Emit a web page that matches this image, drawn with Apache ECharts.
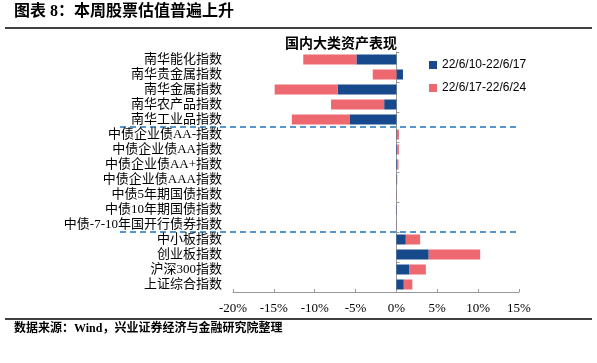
<!DOCTYPE html>
<html><head><meta charset="utf-8">
<script src="https://cdn.jsdelivr.net/npm/echarts@6/dist/echarts.min.js"></script>
<style>html,body{margin:0;padding:0;background:#fff}#c{width:597px;height:363px}</style>
</head><body><div id="c"></div>
<script>
var categories = ['南华能化指数','南华贵金属指数','南华金属指数','南华农产品指数','南华工业品指数',
  '中债企业债AA-指数','中债企业债AA指数','中债企业债AA+指数','中债企业债AAA指数','中债5年期国债指数',
  '中债10年期国债指数','中债-7-10年国开行债券指数','中小板指数','创业板指数','沪深300指数','上证综合指数'];
var seriesNames = ['22/6/10-22/6/17','22/6/17-22/6/24'];
var week1 = [-4.9, 0.8, -7.2, -1.5, -5.75, 0.05, 0.1, 0.1, 0.05, 0.02, -0.04, 0.02, 1.15, 3.95, 1.6, 0.9];
var week2 = [-6.5, -2.9, -7.7, -6.5, -7.05, 0.25, 0.2, 0.15, 0.05, 0.02, -0.02, 0.02, 1.75, 6.3, 2.0, 1.05];
var xTicks = {min: -20, max: 15, interval: 5};
var separatorsAfter = [4, 11];

var serif = '"Liberation Serif","Noto Sans CJK SC",serif';
var chart = echarts.init(document.getElementById('c'));
var gridL = 233, gridR = 78, gridT = 52, gridB = 71;
chart.setOption({
  animation: false,
  title: {text: '国内大类资产表现', left: 336, top: 32, textAlign: 'center',
    textStyle: {fontFamily: serif, fontSize: 14, fontWeight: 'bold', color: '#000'}},
  legend: {orient: 'vertical', left: 424, top: 54, itemGap: 11, itemWidth: 8, itemHeight: 8,
    icon: 'rect', textStyle: {fontFamily: '"Liberation Sans",Arial,sans-serif', fontSize: 12, color: '#000'}},
  grid: {left: gridL, right: gridR, top: gridT, bottom: gridB},
  xAxis: {type: 'value', min: xTicks.min, max: xTicks.max, interval: xTicks.interval,
    axisLine: {show: true, lineStyle: {color: '#999'}},
    axisTick: {show: true, inside: true, length: 3, lineStyle: {color: '#999'}},
    splitLine: {show: false},
    axisLabel: {formatter: '{value}%', fontFamily: serif, fontSize: 13, color: '#000', margin: 10}},
  yAxis: [
    {type: 'category', data: categories, inverse: true,
     axisLine: {onZero: true, lineStyle: {color: '#999'}},
     axisTick: {show: true, inside: true, length: 3, lineStyle: {color: '#999'}},
     axisLabel: {show: false}},
    {type: 'category', data: categories, inverse: true, position: 'left', offset: 0,
     axisLine: {show: false, onZero: false}, axisTick: {show: false},
     axisLabel: {interval: 0, fontFamily: serif, fontSize: 13, color: '#000', margin: 11}}
  ],
  series: [
    {name: seriesNames[0], type: 'bar', stack: 'a', data: week1, barWidth: 10,
     itemStyle: {color: '#164A8C'}},
    {name: seriesNames[1], type: 'bar', stack: 'a', data: week2, barWidth: 10,
     itemStyle: {color: '#EE6870'}}
  ],
  graphic: [
    {type: 'text', left: 14, top: 4, style: {text: '图表 8：本周股票估值普遍上升', fontFamily: serif,
      fontSize: 16, fontWeight: 'bold', fill: '#000'}},
    {type: 'line', shape: {x1: 5, y1: 28, x2: 592, y2: 28}, style: {stroke: '#000', lineWidth: 1.5}},
    {type: 'line', shape: {x1: 5, y1: 319, x2: 592, y2: 319}, style: {stroke: '#000', lineWidth: 1.5}},
    {type: 'text', left: 14, top: 323, style: {text: '数据来源：Wind，兴业证券经济与金融研究院整理', fontFamily: serif,
      fontSize: 12, fontWeight: 'bold', fill: '#000'}}
  ]
});
// dashed separators between category groups, positioned from the axis scale
var extra = [];
separatorsAfter.forEach(function (i) {
  var y1 = chart.convertToPixel({yAxisIndex: 0}, i);
  var y2 = chart.convertToPixel({yAxisIndex: 0}, i + 1);
  var y = (y1 + y2) / 2;
  var xr = chart.convertToPixel({xAxisIndex: 0}, xTicks.max);
  extra.push({type: 'line', shape: {x1: 120, y1: y, x2: xr, y2: y},
    style: {stroke: '#1E74BC', lineWidth: 1.5, lineDash: [6, 4]}});
});
var opt = chart.getOption();
chart.setOption({graphic: opt.graphic[0].elements.concat(extra)}, {replaceMerge: []});
</script></body></html>
